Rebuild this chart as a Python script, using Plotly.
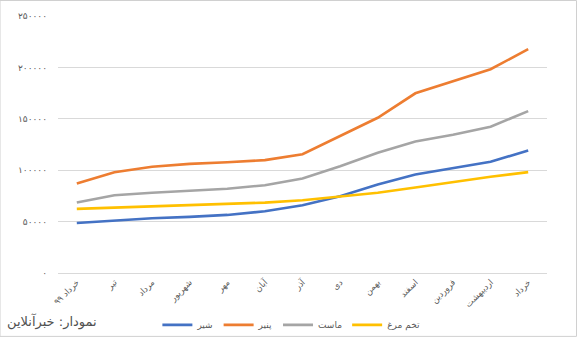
import plotly.graph_objects as go

months = ["خرداد ۹۹", "تیر", "مرداد", "شهریور", "مهر", "آبان", "آذر", "دی",
          "بهمن", "اسفند", "فروردین", "اردیبهشت", "خرداد"]

milk = [48700, 51300, 53200, 54600, 56500, 60000, 65900, 74700, 86100, 95800, 102300, 108200, 119200]
cheese = [87000, 98000, 103300, 106200, 107800, 109800, 115600, 133200, 151000, 174800, 186800, 198200, 217700]
yogurt = [68500, 75700, 78000, 79900, 81900, 85400, 91900, 103900, 117000, 128000, 134500, 142300, 157500]
eggs = [62400, 63600, 64600, 65600, 66900, 68500, 70800, 74100, 78000, 83100, 88700, 93600, 98100]

series_names = ["شیر", "پنیر", "ماست", "تخم مرغ"]
series_colors = ["#4472C4", "#ED7D31", "#A5A5A5", "#FFC000"]

y_tick_vals = [0, 50000, 100000, 150000, 200000, 250000]
y_tick_text = ["۰", "۵۰۰۰۰", "۱۰۰۰۰۰", "۱۵۰۰۰۰", "۲۰۰۰۰۰", "۲۵۰۰۰۰"]

source_text = "نمودار: خبرآنلاین"

FONT = "DejaVu Sans"

fig = go.Figure()
for name, vals, col in zip(series_names, [milk, cheese, yogurt, eggs], series_colors):
    fig.add_trace(go.Scatter(x=months, y=vals, name=name, mode="lines",
                             line=dict(color=col, width=2.6)))

fig.update_layout(
    width=577, height=337, autosize=False,
    margin=dict(l=58, r=30, t=16, b=64, autoexpand=False),
    paper_bgcolor="white", plot_bgcolor="white",
    font=dict(family=FONT, color="#595959", size=9),
    showlegend=True,
    legend=dict(orientation="h", xref="container", yref="container",
                x=0.505, xanchor="center", y=0.036, yanchor="middle",
                font=dict(size=9, color="#595959"), itemwidth=30,
                bgcolor="rgba(0,0,0,0)"),
    xaxis=dict(type="category", range=[-0.5, 12.5], tickangle=-45, automargin=False,
               showgrid=False, showline=True, linecolor="#d9d9d9", linewidth=1,
               ticks="", tickfont=dict(size=8.5, color="#595959")),
    yaxis=dict(range=[0, 250000], tickvals=y_tick_vals, ticktext=y_tick_text, automargin=False,
               showgrid=True, gridcolor="#d9d9d9", gridwidth=1, zeroline=False,
               ticks="", ticklabelstandoff=10, tickfont=dict(size=9, color="#595959")),
    annotations=[dict(text=source_text, xref="paper", yref="paper",
                      x=-0.108, y=-0.19, xanchor="left", yanchor="middle",
                      showarrow=False, font=dict(size=13, color="#505050", family=FONT))],
    shapes=[dict(type="rect", xref="paper", yref="paper",
                 x0=-0.1186, x1=1.0603, y0=-0.2466, y1=1.0603,
                 line=dict(color="#d0d0d0", width=1), fillcolor="rgba(0,0,0,0)", layer="below")],
)

fig.write_html("out.html")
